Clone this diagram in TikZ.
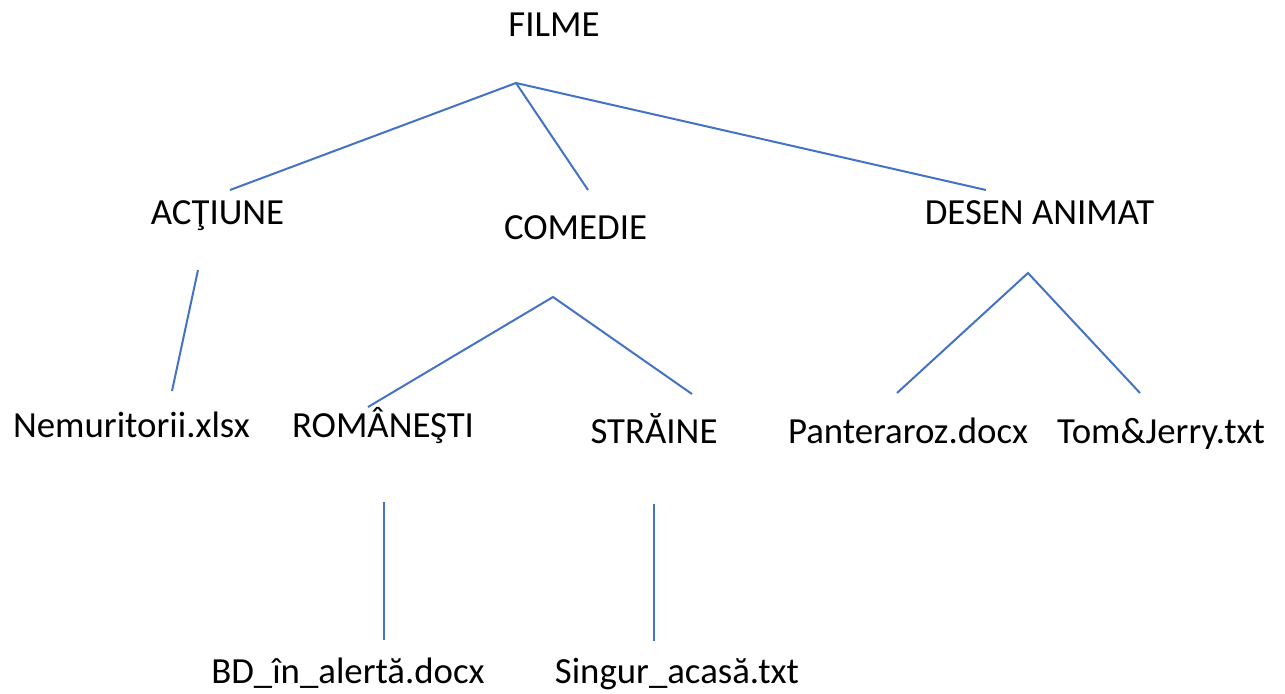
\documentclass[tikz,border=0pt]{standalone}
\usepackage{fontspec}
\setmainfont{Carlito}
\begin{document}
\begin{tikzpicture}[x=0.75pt,y=-0.75pt,
	eticheta/.style={inner sep=0pt,anchor=base,font=\fontsize{27.6}{32}\selectfont},
	ramura/.style={draw=ramuracol,line width=1.5pt}]
				\definecolor{ramuracol}{HTML}{4472C4}
				\useasboundingbox (0,0) rectangle (1285,693);
				% nivelul 0
				\node[eticheta] (filme) at (554,36) {FILME};
				% nivelul 1
				\node[eticheta] (actiune) at (217.5,224) {ACŢIUNE};
				\node[eticheta] (comedie) at (575.5,239) {COMEDIE};
				\node[eticheta] (desen) at (1039.5,224) {DESEN ANIMAT};
				% nivelul 2
				\node[eticheta] (nemuritorii) at (131.5,437) {Nemuritorii.xlsx};
				\node[eticheta] (romanesti) at (383,437) {ROMÂNEŞTI};
				\node[eticheta] (straine) at (654,443) {STRĂINE};
				\node[eticheta] (pantera) at (908,443) {Panteraroz.docx};
				\node[eticheta] (tom) at (1161,443) {Tom\&Jerry.txt};
				% nivelul 3
				\node[eticheta] (bd) at (348,683) {BD\_în\_alertă.docx};
				\node[eticheta] (singur) at (677,683) {Singur\_acasă.txt};
				% capetele ramurilor
				\coordinate (filme-j) at (516,83);
				\coordinate (actiune-s) at (230,190);
				\coordinate (comedie-s) at (588,190);
				\coordinate (desen-s) at (986,190);
				\coordinate (actiune-j) at (198,270);
				\coordinate (nemuritorii-s) at (172,391);
				\coordinate (comedie-j) at (553,297);
				\coordinate (romanesti-s) at (368,407);
				\coordinate (straine-s) at (692,394);
				\coordinate (desen-j) at (1028,273);
				\coordinate (pantera-s) at (897,393);
				\coordinate (tom-s) at (1140,393);
				\coordinate (romanesti-j) at (384,502);
				\coordinate (bd-s) at (384,640);
				\coordinate (straine-j) at (654,504);
				\coordinate (singur-s) at (654,641);
				% ramuri
				\draw[ramura] (actiune-s)--(filme-j)--(desen-s);
				\draw[ramura] (filme-j)--(comedie-s);
				\draw[ramura] (actiune-j)--(nemuritorii-s);
				\draw[ramura] (romanesti-s)--(comedie-j)--(straine-s);
				\draw[ramura] (pantera-s)--(desen-j)--(tom-s);
				\draw[ramura] (romanesti-j)--(bd-s);
				\draw[ramura] (straine-j)--(singur-s);
			\end{tikzpicture}
\end{document}
